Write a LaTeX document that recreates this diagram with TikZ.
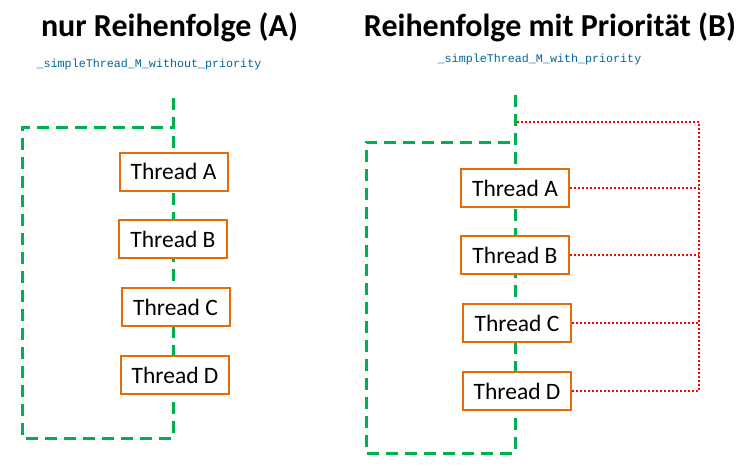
\documentclass[tikz,border=0pt]{standalone}
\usepackage{fontspec}
\setmainfont{Carlito}
\newfontfamily\codefont{Liberation Mono}
\definecolor{flowgreen}{RGB}{0,176,80}
\definecolor{threadorange}{RGB}{228,108,10}
\definecolor{codeblue}{RGB}{0,102,153}

\begin{document}
\begin{tikzpicture}[x = 1pt, y = -1pt,
	thread/.style = {draw = threadorange, line width = 2pt, fill = white,
		minimum width = 108pt, minimum height = 38pt, inner sep = 0pt,
		font = \fontsize{23.5}{27}\selectfont},
	flow/.style = {flowgreen, line width = 3pt, dash pattern = on 12pt off 7pt},
	prio/.style = {red, line width = 1.5pt, dash pattern = on 2pt off 2pt},
	heading/.style = {anchor = base, inner sep = 0pt, font = \fontsize{32}{36}\selectfont\bfseries},
	codename/.style = {anchor = base, inner sep = 0pt, text = codeblue,
		font = \codefont\fontsize{11.7}{14}\selectfont}]
	\useasboundingbox (0,0) rectangle (747,474);

	% left: nur Reihenfolge
	\coordinate[](ltop) at (173,98) ;
	\coordinate[](lbot) at (173,438) ;
	\coordinate[](lbl) at (22,438) ;
	\coordinate[](ltl) at (22,127) ;
	\coordinate[](ltr) at (173,127) ;

	\draw[flow] (ltop) -- (lbot) -- (lbl) -- (ltl) -- (ltr);

	\node[heading](ltitle) at (169.5,36) {nur Reihenfolge (A)};
	\node[codename](lcode) at (149,67) {\_simpleThread\_M\_without\_priority};

	\node[thread](lA) at (173.5,171.5) {Thread A};
	\node[thread](lB) at (173,239) {Thread B};
	\node[thread](lC) at (175.5,307) {Thread C};
	\node[thread](lD) at (175,375) {Thread D};

	% right: Reihenfolge mit Prioritaet
	\coordinate[](rtop) at (515,95) ;
	\coordinate[](rbot) at (515,453) ;
	\coordinate[](rbl) at (366,453) ;
	\coordinate[](rtl) at (366,142) ;
	\coordinate[](rtr) at (515,142) ;

	\draw[flow] (rtop) -- (rbot) -- (rbl) -- (rtl) -- (rtr);

	\node[heading](rtitle) at (550,36) {Reihenfolge mit Priorität (B)};
	\node[codename](rcode) at (539.5,62) {\_simpleThread\_M\_with\_priority};

	\node[thread](rA) at (515,188) {Thread A};
	\node[thread](rB) at (515,255) {Thread B};
	\node[thread](rC) at (517,323) {Thread C};
	\node[thread](rD) at (517,391) {Thread D};

	\coordinate[](pstart) at (517,122) ;
	\coordinate[](pcorner) at (699,122) ;

	\draw[prio] (pstart) -- (pcorner) -- (pcorner |- rD.east) -- (rD.east);
	\foreach \t in {rA, rB, rC}
		\draw[prio] (\t.east) -- (pcorner |- \t.east);
\end{tikzpicture}
\end{document}
